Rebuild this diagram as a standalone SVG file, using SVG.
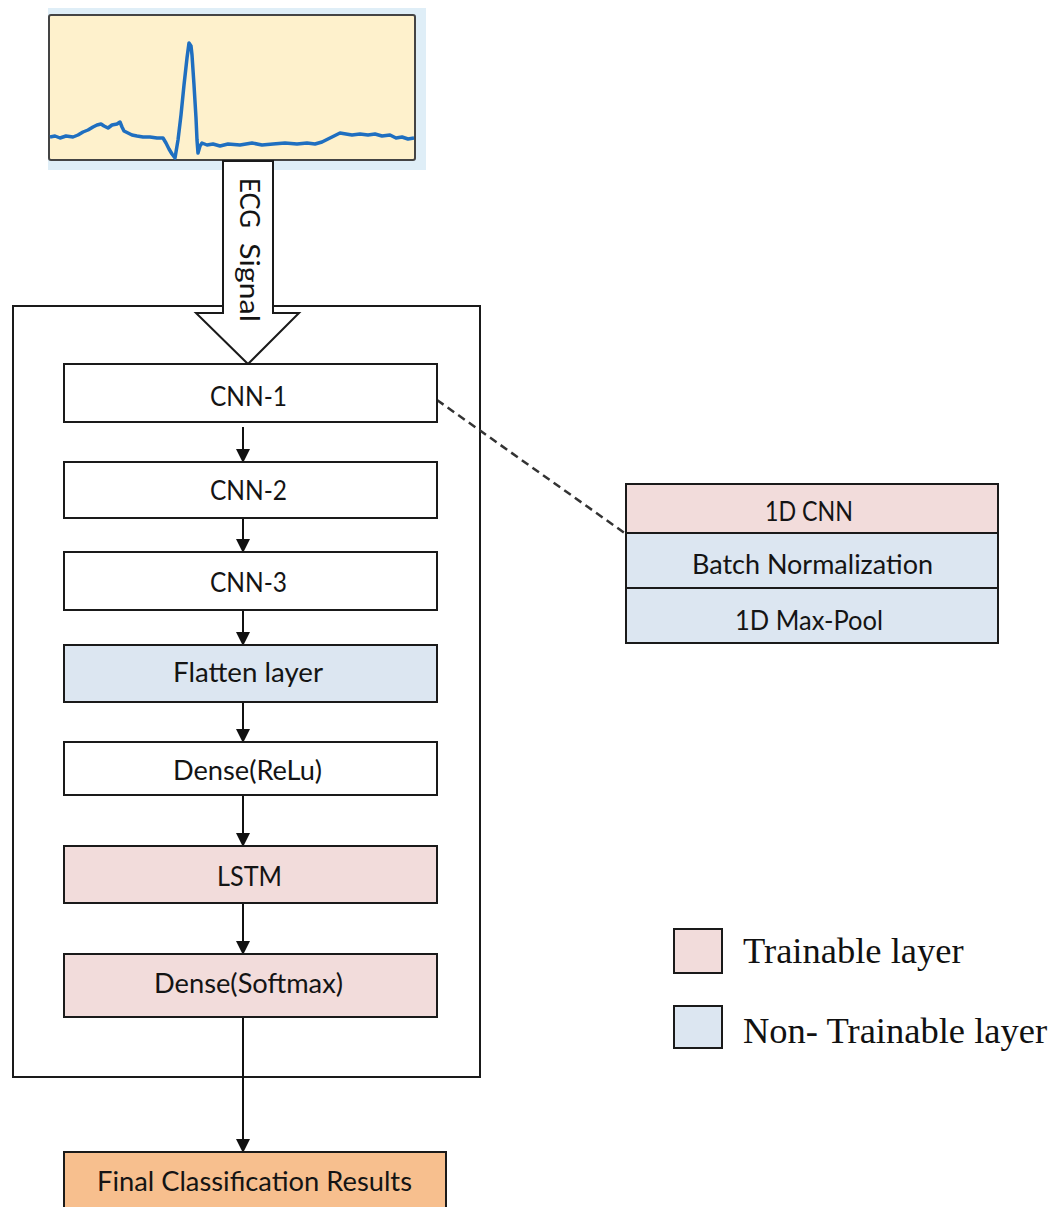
<svg xmlns="http://www.w3.org/2000/svg" width="1062" height="1207" viewBox="0 0 1062 1207">
  <style>
    .box { stroke: #1a1a1a; stroke-width: 2; }
    .plain { fill: #ffffff; }
    .train { fill: #f2dcdb; }
    .fixed { fill: #dce6f1; }
    .result { fill: #f7bf8e; }
    .lbl { font-family: Lato, "Open Sans", sans-serif; font-size: 26px; fill: #141414; text-anchor: middle; }
    .legend { font-family: "Liberation Serif", "Times New Roman", serif; font-size: 36.5px; fill: #111111; }
    .flow { stroke: #111111; stroke-width: 2; fill: none; }
  </style>
  <defs>
    <marker id="tri" markerWidth="14" markerHeight="14" refX="13" refY="7" orient="auto" markerUnits="userSpaceOnUse">
      <path d="M0,0 L14,7 L0,14 Z" fill="#111111"/>
    </marker>
  </defs>

  <rect width="1062" height="1207" fill="#ffffff"/>

  <!-- ECG signal panel -->
  <g id="ecg-panel">
    <rect x="48" y="8" width="378" height="162" fill="#dfeef7"/>
    <rect x="49" y="15" width="366" height="145" rx="2" fill="#fef1cc" stroke="#444444" stroke-width="2"/>
    <path fill="none" stroke="#1f6fc0" stroke-width="3.5" stroke-linejoin="round"
      d="M50,137 L55,136 L60,138 L66,136 L73,137 L78,135 L83,132 L88,130 L93,127 L97,125 L101,124 L104,126 L108,128 L112,125 L117,124 L120,122 L122,127 L124,131 L128,133 L132,135 L137,136 L143,137 L150,137 L157,138 L163,138 L166,143 L169,149 L172,154 L175,158 L178,140 L181,115 L184,85 L187,58 L189,43 L191,46 L192,55 L194,85 L196,118 L197,140 L198,153 L200,146 L202,143 L207,145 L213,144 L220,146 L228,144 L240,145 L252,143 L262,145 L273,144 L285,143 L297,144 L307,143 L315,144 L322,142 L330,138 L336,135 L340,133 L346,134 L352,135 L360,134 L368,135 L375,134 L382,136 L390,135 L396,138 L402,137 L408,139 L414,138"/>
  </g>

  <!-- main model container -->
  <g id="model-frame">
    <rect x="13" y="306" width="467" height="771" fill="none" stroke="#1a1a1a" stroke-width="2"/>
  </g>

  <!-- large hollow input arrow -->
  <g id="input-arrow">
    <polygon points="223,161 273,161 273,313 299,313 248,364 196,313 223,313" fill="#ffffff" stroke="#1a1a1a" stroke-width="2"/>
    <text class="lbl" transform="translate(240,178) rotate(90)" style="text-anchor:start"><tspan x="0" textLength="50" lengthAdjust="spacingAndGlyphs">ECG</tspan> <tspan x="65" textLength="79" lengthAdjust="spacingAndGlyphs">Signal</tspan></text>
  </g>

  <!-- connectors -->
  <g id="connectors">
    <line class="flow" x1="243" y1="427" x2="243" y2="462" marker-end="url(#tri)"/>
    <line class="flow" x1="243" y1="518" x2="243" y2="552" marker-end="url(#tri)"/>
    <line class="flow" x1="243" y1="610" x2="243" y2="645" marker-end="url(#tri)"/>
    <line class="flow" x1="243" y1="701" x2="243" y2="742" marker-end="url(#tri)"/>
    <line class="flow" x1="243" y1="795" x2="243" y2="846" marker-end="url(#tri)"/>
    <line class="flow" x1="243" y1="903" x2="243" y2="954" marker-end="url(#tri)"/>
    <line class="flow" x1="243" y1="1017" x2="243" y2="1152" marker-end="url(#tri)"/>
    <line x1="437" y1="400" x2="626" y2="534" stroke="#333333" stroke-width="2.5" stroke-dasharray="8,5"/>
  </g>

  <!-- layer stack -->
  <g id="cnn1">
    <rect class="box plain" x="64" y="364" width="373" height="58"/>
    <text class="lbl" x="248.5" y="406" textLength="77" lengthAdjust="spacingAndGlyphs">CNN-1</text>
  </g>
  <g id="cnn2">
    <rect class="box plain" x="64" y="462" width="373" height="56"/>
    <text class="lbl" x="248.5" y="500" textLength="77" lengthAdjust="spacingAndGlyphs">CNN-2</text>
  </g>
  <g id="cnn3">
    <rect class="box plain" x="64" y="552" width="373" height="58"/>
    <text class="lbl" x="248.5" y="592" textLength="77" lengthAdjust="spacingAndGlyphs">CNN-3</text>
  </g>
  <g id="flatten">
    <rect class="box fixed" x="64" y="645" width="373" height="57"/>
    <text class="lbl" x="248" y="682" textLength="150" lengthAdjust="spacingAndGlyphs">Flatten layer</text>
  </g>
  <g id="dense-relu">
    <rect class="box plain" x="64" y="742" width="373" height="53"/>
    <text class="lbl" x="247.5" y="780" textLength="149" lengthAdjust="spacingAndGlyphs">Dense(ReLu)</text>
  </g>
  <g id="lstm">
    <rect class="box train" x="64" y="846" width="373" height="57"/>
    <text class="lbl" x="249.5" y="886" textLength="65" lengthAdjust="spacingAndGlyphs">LSTM</text>
  </g>
  <g id="dense-softmax">
    <rect class="box train" x="64" y="954" width="373" height="63"/>
    <text class="lbl" x="248.5" y="993" textLength="189" lengthAdjust="spacingAndGlyphs">Dense(Softmax)</text>
  </g>
  <g id="final-results">
    <rect class="box result" x="64" y="1152" width="382" height="70"/>
    <text class="lbl" x="254.5" y="1191" textLength="315" lengthAdjust="spacingAndGlyphs">Final Classification Results</text>
  </g>

  <!-- CNN block detail -->
  <g id="cnn-block-detail">
    <rect class="box train" x="626" y="484" width="372" height="49"/>
    <rect class="box fixed" x="626" y="533" width="372" height="55"/>
    <rect class="box fixed" x="626" y="588" width="372" height="55"/>
    <text class="lbl" x="809" y="521" textLength="88" lengthAdjust="spacingAndGlyphs">1D CNN</text>
    <text class="lbl" x="812.5" y="574" textLength="241" lengthAdjust="spacingAndGlyphs">Batch Normalization</text>
    <text class="lbl" x="809" y="630" textLength="148" lengthAdjust="spacingAndGlyphs">1D Max-Pool</text>
  </g>

  <!-- legend -->
  <g id="legend-trainable">
    <rect class="box train" x="674" y="929" width="48" height="44"/>
    <text class="legend" x="743" y="963">Trainable layer</text>
  </g>
  <g id="legend-non-trainable">
    <rect class="box fixed" x="674" y="1006" width="48" height="42"/>
    <text class="legend" x="743" y="1043">Non- Trainable layer</text>
  </g>
</svg>
